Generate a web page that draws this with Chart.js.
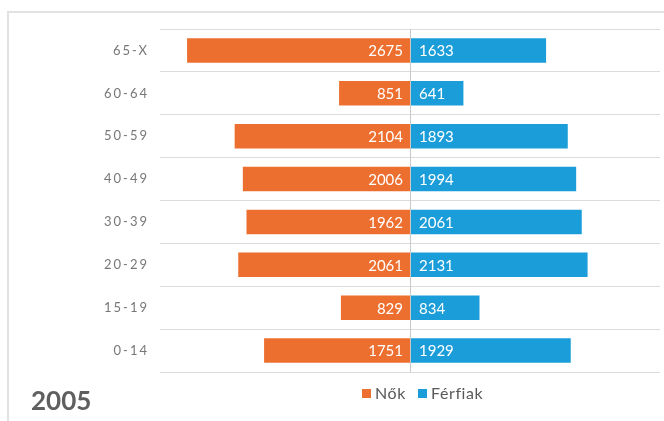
<!DOCTYPE html>
<html>
<head>
<meta charset="utf-8">
<script src="https://cdn.jsdelivr.net/npm/chart.js@4/dist/chart.umd.min.js"></script>
<style>
  html, body { margin: 0; padding: 0; background: #fff; }
  body { width: 664px; height: 421px; position: relative; overflow: hidden; font-family: Lato, "Open Sans", sans-serif; }
  #frame { position: absolute; left: 7px; top: 11px; width: 670px; height: 430px; border-left: 2px solid #e2e2e2; border-top: 2px solid #e2e2e2; }
  #wrap { position: absolute; left: 0; top: 0; width: 664px; height: 421px; }
  #year { position: absolute; left: 31px; top: 385px; font-size: 26px; font-weight: 700; color: #5f5f5f; line-height: 30px; }
  #legend { position: absolute; left: 362px; top: 383px; display: flex; align-items: center; font-size: 16px; letter-spacing: 0.6px; color: #595959; line-height: 20px; }
  #legend .sw { display: inline-block; width: 9px; height: 9px; margin-right: 4px; }
  #legend .item { display: flex; align-items: center; margin-right: 12px; }
</style>
</head>
<body>
<div id="frame"></div>
<div id="wrap"><canvas id="c" width="664" height="421"></canvas></div>
<div id="year">2005</div>
<div id="legend"></div>
<script>
const categories = ["65-X", "60-64", "50-59", "40-49", "30-39", "20-29", "15-19", "0-14"];
const seriesNames = ["Nők", "Férfiak"];
const nok = [2675, 851, 2104, 2006, 1962, 2061, 829, 1751];
const ferfiak = [1633, 641, 1893, 1994, 2061, 2131, 834, 1929];
const colors = ["#ED6F2F", "#1A9DD9"];

// legend (HTML)
const lg = document.getElementById('legend');
seriesNames.forEach((n, i) => {
  const it = document.createElement('span');
  it.className = 'item';
  const sw = document.createElement('span');
  sw.className = 'sw';
  sw.style.background = colors[i];
  it.appendChild(sw);
  it.appendChild(document.createTextNode(n));
  lg.appendChild(it);
});

const labelPlugin = {
  id: 'barLabels',
  beforeDraw(chart) { chart.ctx.letterSpacing = '2px'; },
  beforeDatasetsDraw(chart) { chart.ctx.letterSpacing = '0px'; },
  afterDatasetsDraw(chart) {
    const ctx = chart.ctx;
    const area = chart.chartArea;
    const x0 = chart.scales.x.getPixelForValue(0);
    ctx.save();
    ctx.letterSpacing = '0px';
    // center line
    ctx.strokeStyle = '#c9c9c9';
    ctx.lineWidth = 1;
    ctx.beginPath();
    ctx.moveTo(Math.round(x0) + 0.5, area.top);
    ctx.lineTo(Math.round(x0) + 0.5, area.bottom);
    ctx.stroke();
    ctx.font = '15px Lato, "Open Sans", sans-serif';
    ctx.fillStyle = '#ffffff';
    ctx.textBaseline = 'middle';
    chart.data.datasets.forEach((ds, di) => {
      const meta = chart.getDatasetMeta(di);
      meta.data.forEach((el, i) => {
        const v = di === 0 ? nok[i] : ferfiak[i];
        if (di === 0) {
          ctx.textAlign = 'right';
          ctx.fillText(String(v), x0 - 7, el.y + 1);
        } else {
          ctx.textAlign = 'left';
          ctx.fillText(String(v), x0 + 9, el.y + 1);
        }
      });
    });
    ctx.restore();
  }
};

new Chart(document.getElementById('c'), {
  type: 'bar',
  data: {
    labels: categories,
    datasets: [
      { label: seriesNames[0], data: nok.map(v => -v), backgroundColor: colors[0], borderWidth: 0 },
      { label: seriesNames[1], data: ferfiak, backgroundColor: colors[1], borderWidth: 0 }
    ]
  },
  options: {
    indexAxis: 'y',
    responsive: false,
    animation: false,
    devicePixelRatio: 1,
    barPercentage: 0.57,
    categoryPercentage: 1,
    layout: { padding: { top: 29, bottom: 49, right: 4, left: 0 } },
    plugins: { legend: { display: false }, tooltip: { enabled: false }, title: { display: false } },
    scales: {
      x: { stacked: true, min: -3000, max: 3000, display: false },
      y: {
        stacked: true,
        afterFit(scale) { scale.width = 160; },
        border: { display: false },
        grid: { color: '#dcdcdc', lineWidth: 1, drawTicks: false, offset: true },
        ticks: { padding: 11, color: '#777777', font: { family: 'Lato, "Open Sans", sans-serif', size: 13 } }
      }
    }
  },
  plugins: [labelPlugin]
});
</script>
</body>
</html>
